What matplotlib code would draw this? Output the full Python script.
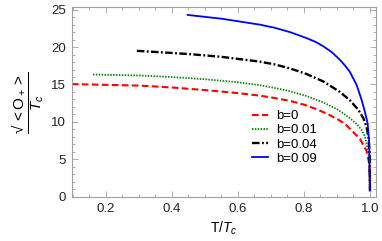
import matplotlib
matplotlib.use("Agg")
import matplotlib.pyplot as plt
from matplotlib.ticker import MultipleLocator

plt.rcParams['font.family'] = ['Liberation Sans', 'DejaVu Sans']
plt.rcParams['mathtext.fontset'] = 'custom'
plt.rcParams['mathtext.rm'] = 'Liberation Sans'
plt.rcParams['mathtext.it'] = 'Liberation Sans:italic'
plt.rcParams['mathtext.bf'] = 'Liberation Sans:bold'

# data
t_b0 = [0.097, 0.2, 0.303, 0.4, 0.5, 0.6, 0.667, 0.71, 0.758, 0.8, 0.838, 0.869, 0.9, 0.925, 0.948, 0.97, 0.99, 0.997, 0.9995, 1.0]
v_b0 = [15.05, 14.95, 14.85, 14.6, 14.25, 13.85, 13.5, 13.2, 12.8, 12.3, 11.7, 11.1, 10.4, 9.7, 8.7, 7.7, 6.1, 4.6, 2.8, 0.8]

t_b001 = [0.161, 0.25, 0.303, 0.4, 0.5, 0.6, 0.667, 0.71, 0.758, 0.808, 0.859, 0.904, 0.939, 0.96, 0.975, 0.985, 0.995, 0.999, 1.0]
v_b001 = [16.33, 16.25, 16.2, 16.0, 15.7, 15.3, 14.9, 14.55, 14.1, 13.45, 12.6, 11.6, 10.5, 9.7, 8.9, 8.0, 6.0, 4.0, 0.8]

t_b004 = [0.294, 0.35, 0.455, 0.55, 0.667, 0.71, 0.758, 0.808, 0.859, 0.909, 0.939, 0.965, 0.98, 0.99, 0.996, 0.999, 1.0]
v_b004 = [19.5, 19.35, 19.06, 18.7, 18.05, 17.7, 17.15, 16.4, 15.4, 14.0, 12.9, 11.6, 10.5, 9.3, 7.8, 5.5, 0.8]

t_b009 = [0.448, 0.55, 0.667, 0.71, 0.758, 0.808, 0.835, 0.859, 0.885, 0.909, 0.925, 0.939, 0.96, 0.975, 0.985, 0.993, 0.998, 1.0]
v_b009 = [24.3, 23.8, 23.0, 22.6, 22.0, 21.2, 20.7, 20.1, 19.3, 18.3, 17.5, 16.7, 14.9, 12.9, 11.3, 9.8, 7.0, 0.8]

labels = ['b=0', 'b=0.01', 'b=0.04', 'b=0.09']
xticks = [0.2, 0.4, 0.6, 0.8, 1.0]
xticklabels = ['0.2', '0.4', '0.6', '0.8', '1.0']
yticks = [0, 5, 10, 15, 20, 25]

fig = plt.figure(figsize=(3.82, 2.41), dpi=100)
ax = fig.add_axes([0.188, 0.181, 0.796, 0.788])

ax.plot(t_b0, v_b0, color='#ff0000', lw=1.5, linestyle=(0, (3.2, 1.6)), label=labels[0])
ax.plot(t_b001, v_b001, color='#008000', lw=1.3, linestyle=(0, (0.8, 0.8)), label=labels[1])
ax.plot(t_b004, v_b004, color='black', lw=1.7, linestyle=(0, (3.2, 1.0, 0.8, 1.0)), label=labels[2])
ax.plot(t_b009, v_b009, color='#0000ff', lw=1.3, linestyle='-', label=labels[3])

ax.set_xlim(0.097, 1.018)
ax.set_ylim(-0.1, 25.3)
ax.set_xticks(xticks)
ax.set_xticklabels(xticklabels)
ax.set_yticks(yticks)
ax.xaxis.set_minor_locator(MultipleLocator(0.05))
ax.yaxis.set_minor_locator(MultipleLocator(1))

frame_col = '#a0a0a0'
for s in ax.spines.values():
    s.set_color(frame_col)
    s.set_linewidth(0.8)
ax.tick_params(which='both', direction='in', top=True, right=True, color=frame_col,
               labelsize=9.5, labelcolor='#222222', width=0.6)
ax.tick_params(which='major', length=4, pad=4)
ax.tick_params(which='minor', length=2)

ax.set_xlabel(r'$\mathrm{T}/T_c$', fontsize=10, labelpad=3)
ax.set_ylabel('$\\dfrac{\u221a\\,<\\mathrm{O}_+>}{T_c}$', fontsize=11, labelpad=4)

leg = ax.legend(loc='upper left', bbox_to_anchor=(0.592, 0.46), frameon=False,
                fontsize=9.5, handlelength=1.25, handletextpad=0.6,
                labelspacing=0.15, borderpad=0, borderaxespad=0)

fig.savefig('out.png', dpi=100)
